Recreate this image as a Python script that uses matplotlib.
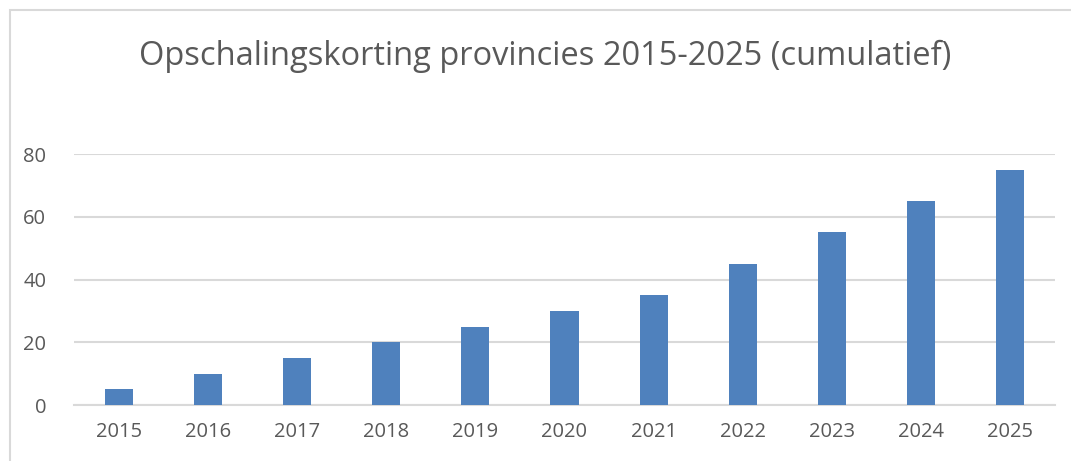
import matplotlib
matplotlib.use("Agg")
import matplotlib.pyplot as plt
from matplotlib.patches import Rectangle

# data
years = ["2015", "2016", "2017", "2018", "2019", "2020",
         "2021", "2022", "2023", "2024", "2025"]
values = [5, 10, 15, 20, 25, 30, 35, 45, 55, 65, 75]
y_ticks = [0, 20, 40, 60, 80]

plt.rcParams["font.family"] = ["Open Sans", "DejaVu Sans"]
text_color = "#595959"
grid_color = "#D9D9D9"
bar_color = "#4F81BD"

fig = plt.figure(figsize=(10.71, 4.61), dpi=100)
W, H = 1071, 461

# outer chart border (only left and top edges are visible)
fig.patches.append(Rectangle((10 / W, -0.5), 2.0, 1.5 - 10 / H, transform=fig.transFigure,
                             fill=False, edgecolor=grid_color, linewidth=1.5))

ax = fig.add_axes([74 / W, 1 - 405 / H, (1055 - 74) / W, (405 - 154) / H])
x = range(len(years))
ax.bar(x, values, width=0.314, color=bar_color, zorder=3)

ax.set_xlim(-0.5, len(years) - 0.5)
ax.set_ylim(0, 80)
ax.set_yticks(y_ticks)
ax.set_xticks(list(x))
ax.set_xticklabels(years)
ax.yaxis.grid(True, color=grid_color, linewidth=1.5, zorder=0)
ax.tick_params(length=0, labelsize=14.5, labelcolor=text_color)
ax.tick_params(axis="y", pad=20)
ax.tick_params(axis="x", pad=12)
for side in ["top", "right", "left"]:
    ax.spines[side].set_visible(False)
ax.spines["bottom"].set_color(grid_color)
ax.spines["bottom"].set_linewidth(1.5)

fig.text(545 / W, 1 - 56 / H, "Opschalingskorting provincies 2015-2025 (cumulatief)",
         ha="center", va="center", fontsize=23.5, color=text_color)

fig.savefig("out.png", dpi=100)
